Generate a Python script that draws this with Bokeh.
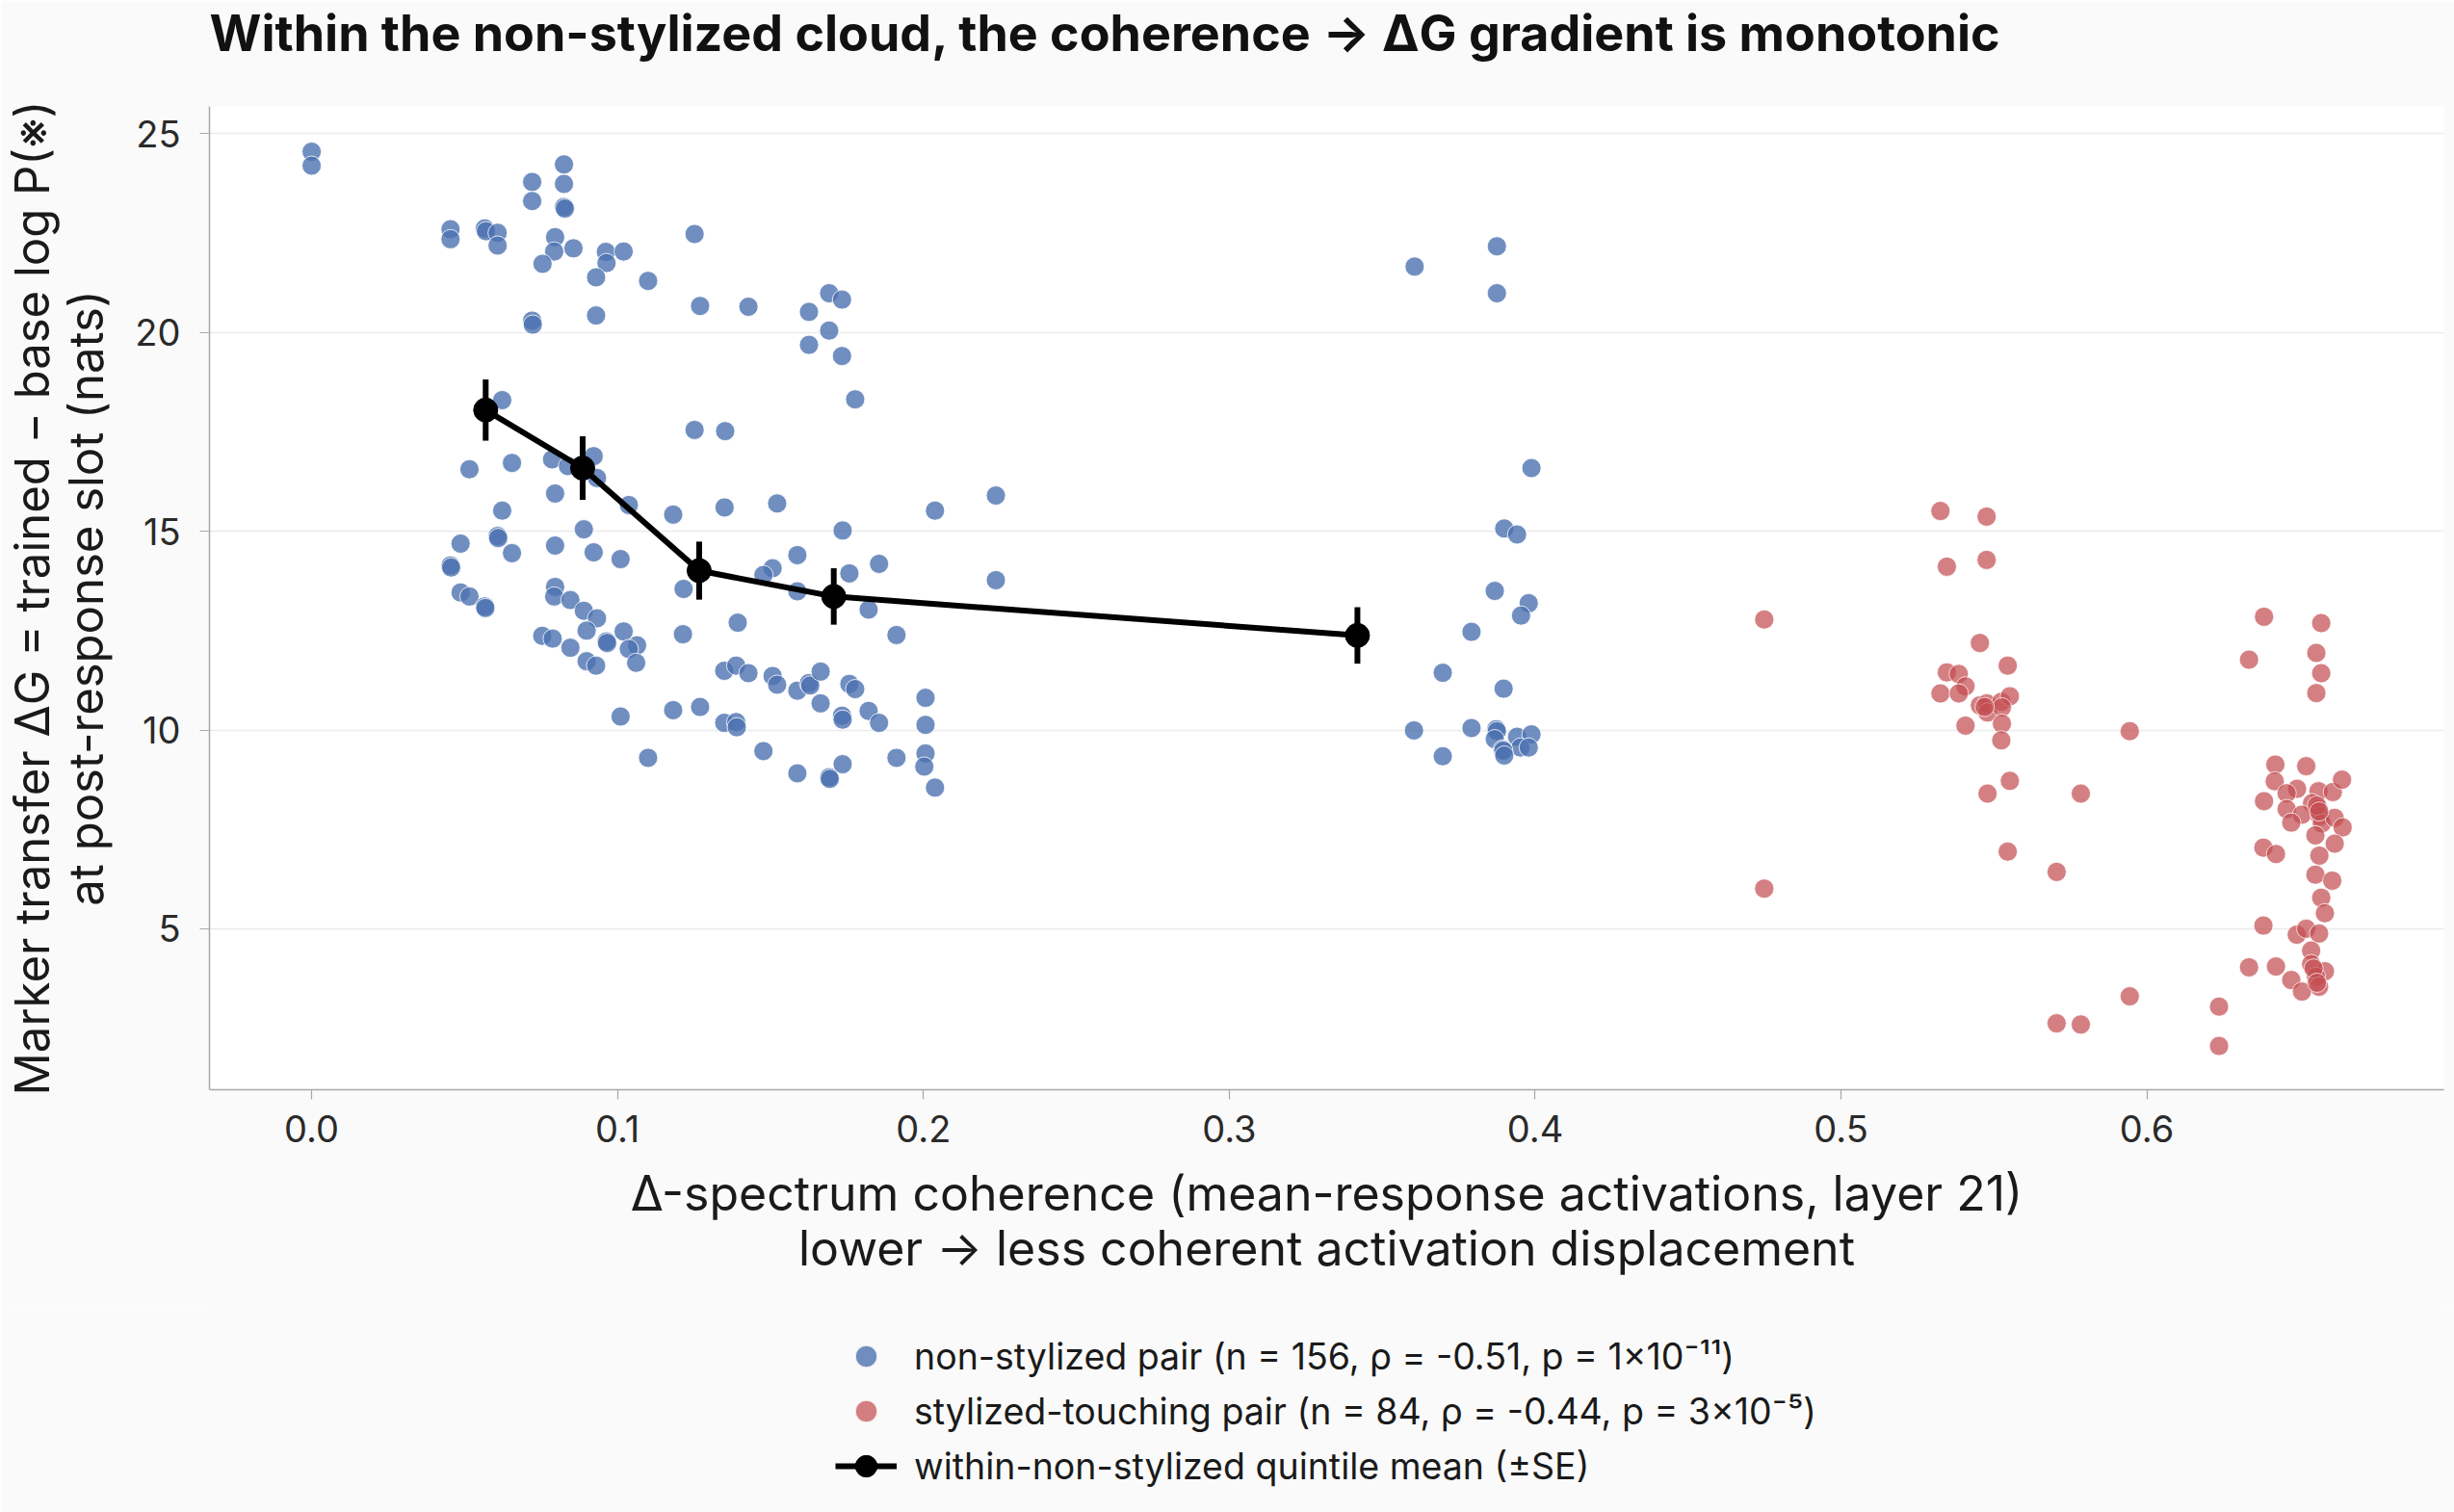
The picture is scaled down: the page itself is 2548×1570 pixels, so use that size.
import numpy as np
from bokeh.plotting import figure
from bokeh.layouts import column
from bokeh.models import Range1d, FixedTicker, PrintfTickFormatter, Legend, LegendItem, Title
from bokeh.embed import file_html
from bokeh.resources import INLINE

# non-stylized pairs: Δ-spectrum coherence vs marker transfer ΔG
ns_coherence = [
    0.0, 0.0, 0.0454, 0.0454, 0.0566, 0.0570, 0.0608, 0.0608, 0.0721, 0.0721,
    0.0825, 0.0825, 0.0825, 0.0828, 0.0796, 0.0793, 0.0755, 0.0856, 0.0962, 0.0964,
    0.1020, 0.0930, 0.1100, 0.1252, 0.1270, 0.0721, 0.0723, 0.0930,
    0.0623, 0.0516, 0.0655, 0.0786, 0.0838, 0.0922, 0.0933, 0.0796, 0.0623, 0.1037,
    0.1182, 0.1252, 0.1352, 0.1350,
    0.0487, 0.0608, 0.0610, 0.0655, 0.0454, 0.0456, 0.0796, 0.0890, 0.0922, 0.1010,
    0.0487, 0.0516, 0.0566, 0.0568, 0.0796, 0.0793, 0.0846, 0.0890, 0.0933, 0.0899,
    0.0964, 0.0966, 0.1020, 0.1064, 0.1037, 0.1061, 0.1216, 0.1214, 0.0754, 0.0788,
    0.0846, 0.0899, 0.0930,
    0.1010, 0.1182, 0.1270, 0.1100,
    0.1428, 0.1626, 0.1692, 0.1734, 0.1692, 0.1626, 0.1734, 0.1777,
    0.1522, 0.2038, 0.2237, 0.1736,
    0.1588, 0.1507, 0.1477, 0.1588, 0.1758, 0.1855, 0.1821, 0.1912, 0.2237, 0.1393,
    0.1349, 0.1388, 0.1428, 0.1507, 0.1522, 0.1588, 0.1626, 0.1630, 0.1664, 0.1664,
    0.1758, 0.1777, 0.1734, 0.1736, 0.1821, 0.1855, 0.2007, 0.2007,
    0.1349, 0.1388, 0.1390,
    0.1477, 0.1588, 0.1692, 0.1694, 0.1736, 0.1912, 0.2007, 0.2003, 0.2038,
    0.3606, 0.3875, 0.3875, 0.3988, 0.3899, 0.3941, 0.3868, 0.3979, 0.3954, 0.3792,
    0.3698, 0.3897,
    0.3604, 0.3792, 0.3873, 0.3875, 0.3868, 0.3941, 0.3988, 0.3952, 0.3979, 0.3894,
    0.3896, 0.3899, 0.3698,
]
ns_delta_g = [
    24.55, 24.20, 22.60, 22.35, 22.62, 22.55, 22.51, 22.19, 23.79, 23.31,
    24.23, 23.74, 23.16, 23.12, 22.40, 22.04, 21.73, 22.12, 22.03, 21.75,
    22.04, 21.39, 21.30, 22.48, 20.67, 20.30, 20.20, 20.43,
    18.30, 16.56, 16.72, 16.81, 16.64, 16.89, 16.34, 15.95, 15.52, 15.66,
    15.42, 17.55, 17.52, 15.60,
    14.69, 14.88, 14.83, 14.45, 14.14, 14.09, 14.64, 15.05, 14.47, 14.30,
    13.46, 13.36, 13.11, 13.07, 13.60, 13.36, 13.27, 13.00, 12.81, 12.50,
    12.23, 12.19, 12.48, 12.13, 12.04, 11.69, 13.55, 12.41, 12.37, 12.30,
    12.07, 11.73, 11.62,
    10.34, 10.50, 10.58, 9.30,
    20.65, 20.52, 20.99, 20.83, 20.05, 19.69, 19.41, 18.32,
    15.70, 15.52, 15.90, 15.02,
    14.40, 14.07, 13.90, 13.49, 13.94, 14.18, 13.03, 12.39, 13.77, 12.70,
    11.49, 11.62, 11.43, 11.36, 11.14, 10.99, 11.18, 11.12, 11.47, 10.67,
    11.16, 11.03, 10.36, 10.26, 10.48, 10.18, 10.81, 10.13,
    10.18, 10.20, 10.07,
    9.47, 8.91, 8.81, 8.77, 9.14, 9.30, 9.41, 9.08, 8.55,
    21.66, 22.17, 20.99, 16.59, 15.07, 14.92, 13.50, 13.19, 12.88, 12.47,
    11.44, 11.04,
    9.99, 10.05, 10.02, 9.97, 9.77, 9.83, 9.89, 9.56, 9.56, 9.51,
    9.48, 9.36, 9.34,
]

# stylized-touching pairs
st_coherence = [
    0.5325, 0.5476, 0.5346, 0.5476, 0.4749, 0.5454, 0.5545, 0.5346, 0.5385, 0.5407,
    0.5325, 0.5385, 0.5454, 0.5477, 0.5479, 0.5524, 0.5552, 0.5526, 0.5470, 0.5407,
    0.5526, 0.5524, 0.5552, 0.5479, 0.5784, 0.5545, 0.5705, 0.4749, 0.5705, 0.5784,
    0.5944, 0.5944,
    0.6383, 0.6570, 0.6334, 0.6554, 0.6570, 0.6554,
    0.6420, 0.6521,
    0.6418, 0.6491, 0.6457, 0.6561, 0.6608, 0.6638,
    0.6383, 0.6540, 0.6561, 0.6457, 0.6507, 0.6566, 0.6572, 0.6472, 0.6614, 0.6640,
    0.6556, 0.6563,
    0.6551, 0.6614, 0.6381, 0.6422, 0.6564, 0.6551, 0.6606, 0.6570, 0.6582, 0.6381,
    0.6490, 0.6521, 0.6563, 0.6537, 0.6334, 0.6422, 0.6537, 0.6582, 0.6553, 0.6545,
    0.6472, 0.6563, 0.6507, 0.6556, 0.6236, 0.6236,
]
st_delta_g = [
    15.51, 15.37, 14.11, 14.28, 12.78, 12.19, 11.62, 11.45, 11.41, 11.10,
    10.92, 10.92, 10.62, 10.67, 10.44, 10.71, 10.85, 10.57, 10.58, 10.11,
    10.16, 9.74, 8.72, 8.40, 8.40, 6.94, 6.43, 6.01, 2.62, 2.59,
    9.97, 3.30,
    12.85, 12.69, 11.77, 11.94, 11.43, 10.93,
    9.13, 9.09,
    8.71, 8.52, 8.41, 8.46, 8.44, 8.75,
    8.21, 8.16, 8.03, 8.01, 7.87, 7.83, 7.65, 7.67, 7.79, 7.55,
    8.10, 7.95,
    7.35, 7.14, 7.04, 6.88, 6.84, 6.36, 6.21, 5.78, 5.39, 5.08,
    4.85, 5.00, 4.88, 4.45, 4.03, 4.05, 4.11, 3.93, 3.79, 4.00,
    3.71, 3.54, 3.42, 3.64, 3.04, 2.05,
]

# within-non-stylized quintile means with standard errors
quintile_coherence = [0.0569, 0.0886, 0.1267, 0.1707, 0.3419]
quintile_mean = [18.05, 16.59, 14.01, 13.36, 12.38]
quintile_se = [0.77, 0.80, 0.73, 0.71, 0.71]

x_ticks = [0.0, 0.1, 0.2, 0.3, 0.4, 0.5, 0.6]
y_ticks = [5, 10, 15, 20, 25]

labels = [
    "non-stylized pair (n = 156, \u03c1 = -0.51, p = 1\u00d710\u207b\u00b9\u00b9)",
    "stylized-touching pair (n = 84, \u03c1 = -0.44, p = 3\u00d710\u207b\u2075)",
    "within-non-stylized quintile mean (\u00b1SE)",
]

FONT = "Inter"
BLUE = "#4C72B0"
RED = "#C44E52"
PAGE = "#fafafa"

W = 2548
MAIN_H = 1360
LEGEND_H = 1570 - MAIN_H

p = figure(
    width=W, height=MAIN_H,
    x_range=Range1d(-0.0334, 0.6971), y_range=Range1d(0.95, 25.69),
    output_backend="svg", toolbar_location=None,
    min_border_left=214, min_border_right=11, min_border_top=110, min_border_bottom=MAIN_H - 1131,
    background_fill_color="white", border_fill_color=PAGE,
    outline_line_color=None,
)

p.title.text = "Within the non-stylized cloud, the coherence \u2192 \u0394G gradient is monotonic"
p.title.text_font = FONT
p.title.text_font_size = "52px"
p.title.text_font_style = "bold"
p.title.text_color = "#111111"
p.title.align = "left"
p.title.standoff = 0
# blank band between the title and the plot frame
p.add_layout(Title(text=" ", text_font_size="10px", standoff=32), "above")

# scatter clouds
p.scatter(ns_coherence, ns_delta_g, size=20, fill_color=BLUE, line_color="white",
          line_width=1, alpha=0.8)
p.scatter(st_coherence, st_delta_g, size=20, fill_color=RED, line_color="white",
          line_width=1, alpha=0.72)

# quintile means ± SE
lo = [m - s for m, s in zip(quintile_mean, quintile_se)]
hi = [m + s for m, s in zip(quintile_mean, quintile_se)]
p.segment(x0=quintile_coherence, y0=lo, x1=quintile_coherence, y1=hi, line_color="black", line_width=6)
p.line(quintile_coherence, quintile_mean, line_color="black", line_width=6)
p.scatter(quintile_coherence, quintile_mean, size=25, color="black")

# axes
for ax in (p.xaxis[0], p.yaxis[0]):
    ax.axis_line_color = "#a8a8a8"
    ax.axis_line_width = 1.5
    ax.major_tick_line_color = "#a8a8a8"
    ax.major_tick_line_width = 1.2
    ax.major_tick_out = 10
    ax.major_tick_in = 0
    ax.minor_tick_line_color = None
    ax.major_label_text_font = FONT
    ax.major_label_text_font_size = "38px"
    ax.major_label_text_color = "#2a2a2a"
    ax.axis_label_text_font_style = "normal"
    ax.axis_label_text_color = "#1a1a1a"
    ax.axis_label_text_line_height = 0.96

p.xaxis.axis_label_text_font = FONT
p.xaxis.axis_label_text_font_size = "50px"
p.yaxis.axis_label_text_font = FONT
p.yaxis.axis_label_text_font_size = "49px"

p.xaxis.ticker = FixedTicker(ticks=x_ticks)
p.yaxis.ticker = FixedTicker(ticks=y_ticks)
p.xaxis.formatter = PrintfTickFormatter(format="%.1f")
p.yaxis.formatter = PrintfTickFormatter(format="%d")
p.xaxis.major_label_standoff = 16
p.yaxis.major_label_standoff = 20
p.xaxis.axis_label_standoff = 20
p.yaxis.axis_label_standoff = 18
p.xaxis.axis_label = "\u0394-spectrum coherence (mean-response activations, layer 21)\nlower \u2192 less coherent activation displacement"
p.yaxis.axis_label = "Marker transfer \u0394G = trained \u2212 base log P(\u203b)\nat post-response slot (nats)"

p.xgrid.visible = False
p.ygrid.grid_line_color = "#ebebeb"
p.ygrid.grid_line_width = 1.5

# legend strip under the chart; its key glyphs sit outside the strip's ranges
q = figure(
    width=W, height=LEGEND_H,
    x_range=Range1d(0, 1), y_range=Range1d(0, 1),
    x_axis_type=None, y_axis_type=None,
    output_backend="svg", toolbar_location=None, min_border=0,
    background_fill_color=PAGE, border_fill_color=PAGE, outline_line_color=None,
)
k_ns = q.scatter([-5], [-5], size=20, fill_color=BLUE, line_color="white", line_width=1, alpha=0.8)
k_st = q.scatter([-5], [-5], size=20, fill_color=RED, line_color="white", line_width=1, alpha=0.72)
k_line = q.line([-5, -4], [-5, -4], line_color="black", line_width=6)
k_bar = q.scatter([-5], [-5], marker="dash", angle=np.pi / 2, size=30, line_color="black", line_width=6)
k_pts = q.scatter([-5], [-5], size=25, color="black")

legend = Legend(
    items=[
        LegendItem(label=labels[0], renderers=[k_ns]),
        LegendItem(label=labels[1], renderers=[k_st]),
        LegendItem(label=labels[2], renderers=[k_line, k_bar, k_pts]),
    ],
    location=(650, 20), orientation="vertical",
    glyph_width=64, glyph_height=56, label_standoff=18, spacing=1,
    label_text_font=FONT, label_text_font_size="37.5px", label_text_color="#1a1a1a",
    border_line_color=None, background_fill_alpha=0,
    padding=10, margin=0,
)
q.add_layout(legend, "center")

open("out.html", "w").write(file_html(column(p, q), INLINE))
